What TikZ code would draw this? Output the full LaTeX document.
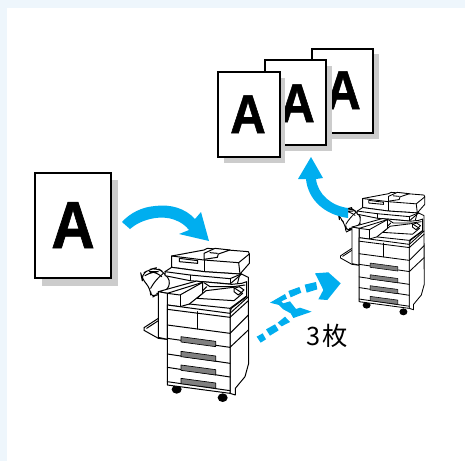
\documentclass[tikz,border=0pt]{standalone}
\usepackage{fontspec}
\setmainfont{Liberation Sans}
\newfontfamily\cjkf{Noto Sans CJK JP}
\newfontfamily\heavyf[FakeBold=1.1]{Liberation Sans Bold}
\definecolor{bluea}{HTML}{00AEEF}
\definecolor{bgc}{HTML}{EEF6FC}
\definecolor{shad}{HTML}{CCCCCC}
\definecolor{hand}{HTML}{808080}
\newcommand{\cpscale}{1}
\tikzset{
 sheet/.style={draw=black,fill=white,line width=2.1pt,line join=miter},
 shadowbox/.style={fill=shad,draw=none},
 bigA/.style={font=\heavyf\fontsize{50}{50}\selectfont,anchor=base,inner sep=0pt,xscale=0.9},
 midA/.style={font=\heavyf\fontsize{41}{41}\selectfont,anchor=base,inner sep=0pt,xscale=0.9},
 flow/.style={fill=bluea,draw=none},
 mline/.style={draw=black,line width=0.75pt*\cpscale,line join=round,line cap=round},
 mbody/.style={mline,fill=white},
 copier/.pic={
  % casters
  \fill[black] (140,478) ellipse (15 and 13);
  \fill[black] (278,503) ellipse (15 and 13);
  % right wall
  \path[mbody] (300,250)--(330,130)--(355,142)--(356,400)--(345,440)--(316,475)--(316,495)--(300,490)--cycle;
  % finisher upper tray
  \path[mbody,rounded corners=5] (62,205)--(62,175)--(36,148)--(33,133)--(60,118)--(80,113)--(103,128)--(125,160)--(100,190)--(85,190)--cycle;
  \path[mline,rounded corners=5] (45,137)--(65,125)--(78,125)--(95,140);
  \path[mline,rounded corners=5] (62,175)--(75,152)--(100,130);
  % lower tray
  \path[mbody] (85,265)--(42,293)--(42,301)--(85,325)--(110,328)--(110,300)--cycle;
  \path[mline] (50,295)--(85,272);
  % scanner
  \path[mbody] (125,78)--(222,60)--(232,55)--(355,65)--(358,72)--(358,100)--(330,132)--(222,125)--(125,112)--cycle;
  \path[mline] (125,78)--(222,90)--(326,98)--(358,72);
  \path[mline] (326,98)--(330,132);
  \path[mline] (222,90)--(222,125);
  \path[mbody] (222,70)--(255,55)--(300,60)--(265,72)--(262,82)--(222,88)--cycle;
  \path[mline] (240,68)--(262,70);
  \path[mline] (148,85)--(203,92)--(203,100)--(148,95)--cycle;
  % panel band
  \path[mbody] (105,125)--(125,112)--(222,125)--(330,132)--(335,132)--(300,162)--(180,152)--(105,137)--cycle;
  \path[mline] (105,125)--(180,135)--(300,146)--(334,132);
  \path[mline] (180,135)--(180,152);
  \path[mline] (300,146)--(300,162);
  % bay
  \path[mbody] (112,225)--(112,190)--(218,155)--(305,163)--(335,160)--(350,155)--(350,200)--(300,238)--(300,262)--cycle;
  \path[mline] (222,158)--(240,170)--(310,170)--(345,165);
  \path[mline] (178,222)--(230,170);
  \path[mline] (178,222)--(300,235)--(350,198);
  \path[mline,fill=white] (200,205)--(228,182)--(310,172)--(338,190)--(312,212)--cycle;
  \path[mline] (312,175)--(328,170)--(342,180)--(325,195)--(312,185)--cycle;
  % output box
  \path[mbody] (85,185)--(200,153)--(218,157)--(218,190)--(178,222)--(150,230)--(112,225)--(112,190)--cycle;
  \path[mline] (112,190)--(218,157);
  \path[mline] (112,190)--(150,195)--(218,157);
  \path[mline] (150,195)--(150,230);
  \path[mbody] (85,185)--(112,190)--(112,328)--(85,322)--cycle;
  % front
  \path[mbody] (112,225)--(300,250)--(300,490)--(112,465)--cycle;
  \path[mline] (112,238)--(300,262);
  \path[mline] (203,245)--(203,297);
  \path[mline] (112,285)--(300,310);
  \path[mline] (112,325)--(300,352);
  \path[mline] (112,372)--(300,400);
  \path[mline] (112,412)--(300,441);
  \path[mline] (112,455)--(300,482);
  \path[mline] (300,250)--(355,200);
  \path[mline] (300,262)--(355,212);
  \path[mline] (300,310)--(355,255);
  \path[mline] (300,352)--(355,300);
  % handles
  \foreach \hy in {320,364,405,445}{
   \path[mline,fill=hand,line width=0.5pt*\cpscale] (153,\hy)--(257,\hy+14)--(257,\hy+30)--(153,\hy+16)--cycle;
  }
 }
}
\begin{document}
\begin{tikzpicture}[x=0.75pt,y=-0.75pt]
\useasboundingbox (0,0) rectangle (465,461);
\fill[bgc] (0,0) rectangle (465,461);
\fill[white] (7,8) rectangle (465,461);

\fill[shadowbox] (42,180) rectangle (118,286);
\draw[sheet] (35,173) rectangle (111,278);
\node[bigA] (letterA) at (73,248) {A};

\fill[shadowbox] (318,54) rectangle (379,139);
\draw[sheet] (312,49) rectangle (373,133);
\node[midA] (letterC) at (343,109) {A};
\fill[shadowbox] (270,66) rectangle (332,151);
\draw[sheet] (265,60) rectangle (326,145);
\node[midA] (letterB) at (297,122) {A};
\fill[shadowbox] (224,78) rectangle (285,163);
\draw[sheet] (218,72) rectangle (280,157);
\node[midA] (letterD) at (248,133) {A};

\begin{scope}[shift={(130,230)},x=0.25pt,y=-0.25pt]
 \pic {copier};
\end{scope}
\begin{scope}[shift={(329.3,177.7)},x=0.2pt,y=-0.2pt]
 \renewcommand{\cpscale}{0.85}
 \pic {copier};
\end{scope}

\fill[flow] (122,222)--(130,229) .. controls (140,220) and (160,214) .. (175,220) .. controls (181,222) and (186,226) .. (189,230) --(179,234)--(209,241)--(201,212)--(195,219) .. controls (185,208) and (170,204) .. (155,206) .. controls (142,207) and (130,213) .. cycle;
\fill[flow] (348,208)--(348,218) .. controls (325,215) and (308,200) .. (306,179) --(298,179)--(311,157)--(323,178)--(316,179) .. controls (318,195) and (332,206) .. cycle;

\begin{scope}[shift={(240,260)},x=0.25pt,y=-0.25pt]
 \fill[flow] (50,230)--(68,220)--(78,238)--(62,248)--cycle;
 \fill[flow] (78,208)--(105,193)--(116,211)--(90,227)--cycle;
 \fill[flow] (113,188)--(135,170)--(150,186)--(125,199)--cycle;
 \fill[flow] (90,128)--(135,102)--(141,116)--(124,124)--(130,130)--(150,124)--(168,147)--(180,143)--(215,155)--(160,174)--(152,160)--(130,148)--(117,135)--cycle;
 \fill[flow] (145,93)--(178,81)--(184,98)--(152,112)--cycle;
 \fill[flow] (194,74)--(228,66)--(232,88)--(200,98)--cycle;
 \fill[flow] (225,40)--(265,37)--(302,70)--(262,120)--(235,118)--(250,90)--(238,65)--cycle;
\end{scope}

\node[font=\cjkf\fontsize{19}{19}\selectfont,anchor=base west,inner sep=0pt] (count) at (306,345) {3\hspace{2pt}枚};
\end{tikzpicture}
\end{document}
